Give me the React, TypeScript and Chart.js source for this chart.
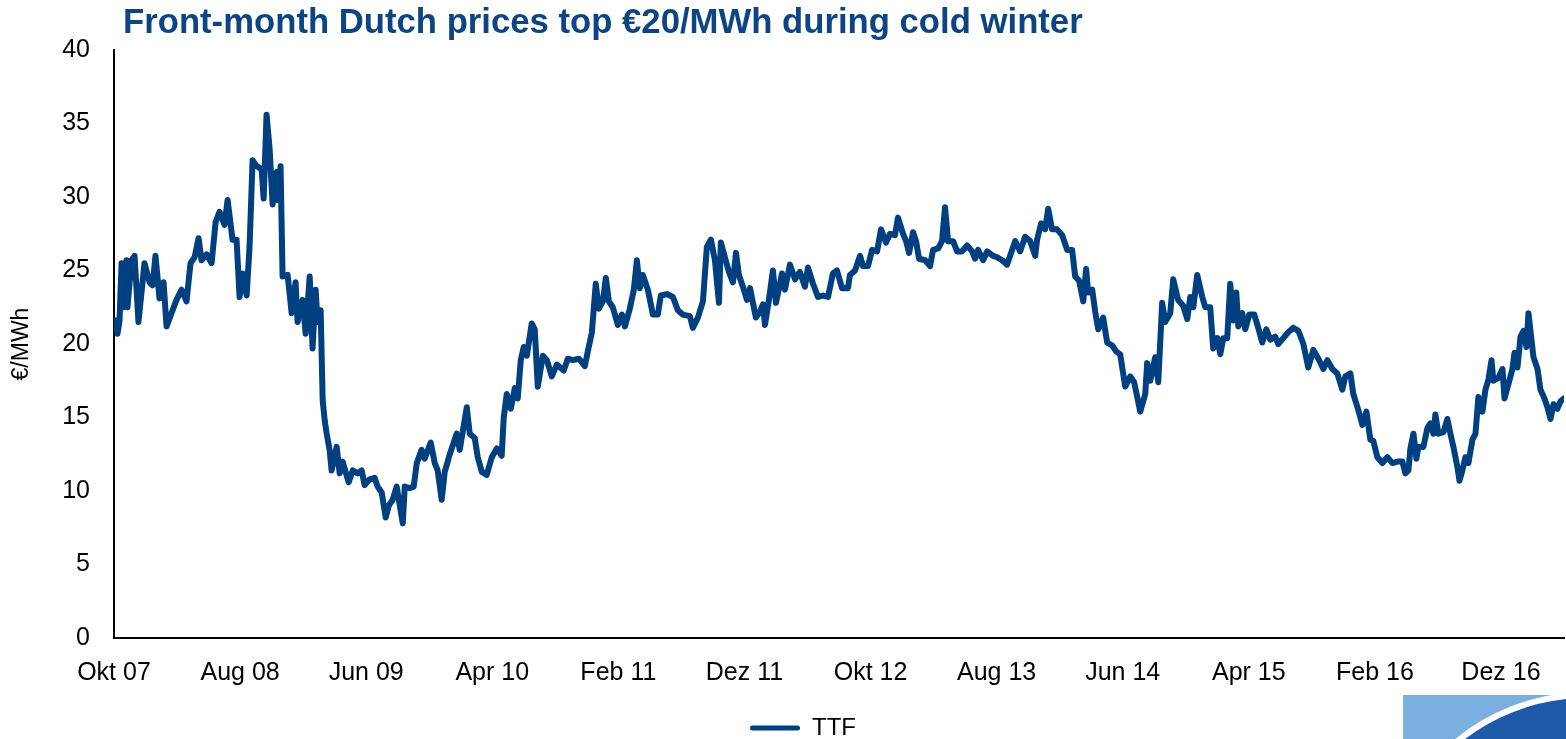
import React, { useEffect, useRef } from 'react';
import { Chart, registerables } from 'chart.js';

Chart.register(...registerables);

const chartTitle = 'Front-month Dutch prices top €20/MWh during cold winter';
const seriesName = 'TTF';
const yAxisTitle = '€/MWh';

// x positions are months since October 2007
const tickMonths = [0, 10, 20, 30, 40, 50, 60, 70, 80, 90, 100, 110];
const tickLabels = ['Okt 07', 'Aug 08', 'Jun 09', 'Apr 10', 'Feb 11', 'Dez 11', 'Okt 12', 'Aug 13', 'Jun 14', 'Apr 15', 'Feb 16', 'Dez 16'];

// [months since Oct 2007, €/MWh]
const ttf2007to2010: [number, number][] = [
  [0, 21.5], [0.12, 21.6], [0.28, 20.7], [0.44, 21.6], [0.6, 25.5], [0.75, 22.5], [0.99, 25.7], [1.07, 22.5],
  [1.39, 25.7], [1.63, 26.0], [1.94, 21.5], [2.42, 25.5], [2.82, 24.2], [3.06, 24.0], [3.29, 26.0], [3.61, 23.1],
  [3.93, 24.2], [4.17, 21.2], [4.56, 22.1], [4.96, 23.0], [5.36, 23.7], [5.75, 22.9], [6.07, 25.5], [6.39, 25.9],
  [6.71, 27.2], [6.94, 25.7], [7.34, 26.1], [7.74, 25.5], [8.06, 28.3], [8.37, 29.0], [8.77, 28.1], [9.01, 29.8],
  [9.4, 27.1], [9.72, 27.1], [9.96, 23.2], [10.2, 24.8], [10.52, 23.3], [10.75, 26.6], [10.99, 32.5], [11.31, 32.1],
  [11.71, 31.9], [11.87, 29.9], [12.1, 35.6], [12.34, 33.3], [12.58, 29.5], [12.9, 31.7], [12.98, 29.8], [13.21, 32.1],
  [13.37, 24.6], [13.77, 24.7], [14.09, 22.1], [14.4, 24.2], [14.56, 21.5], [14.96, 23.0], [15.2, 20.7], [15.52, 24.6],
  [15.75, 19.7], [15.99, 23.7], [16.15, 21.5], [16.39, 22.3], [16.55, 16.2], [16.71, 14.8], [16.87, 13.9], [17.1, 12.8],
  [17.26, 11.4], [17.66, 13.0], [17.9, 11.2], [18.13, 12.0], [18.61, 10.6], [18.93, 11.4], [19.33, 11.2], [19.64, 11.4],
  [19.88, 10.4], [20.28, 10.8], [20.67, 10.9], [20.91, 10.3], [21.23, 9.9], [21.55, 8.2], [21.79, 9.0], [22.1, 9.4],
  [22.42, 10.3], [22.9, 7.8], [23.06, 10.3], [23.45, 10.2], [23.77, 10.3], [24.01, 11.9], [24.4, 12.8], [24.64, 12.2],
  [25.12, 13.3], [25.44, 11.9], [25.67, 11.4], [25.99, 9.4], [26.23, 11.3], [26.63, 12.5], [27.18, 13.9], [27.42, 12.8],
  [27.98, 15.7], [28.21, 13.9], [28.61, 13.6], [28.85, 12.3], [29.17, 11.3], [29.56, 11.1],
];

const ttf2010to2012: [number, number][] = [
  [29.96, 12.3], [30.36, 12.9], [30.75, 12.4], [30.91, 15.0], [31.15, 16.6], [31.47, 15.6], [31.79, 17.0], [32.02, 16.3],
  [32.26, 18.9], [32.5, 19.8], [32.74, 19.2], [33.13, 21.4], [33.37, 21.0], [33.61, 17.1], [34.01, 19.2], [34.33, 18.9],
  [34.72, 17.8], [35.12, 18.6], [35.67, 18.2], [35.99, 19.0], [36.39, 18.9], [36.87, 19.0], [37.34, 18.5], [37.58, 19.5],
  [37.9, 20.8], [38.21, 24.1], [38.45, 22.4], [38.77, 22.9], [39.01, 24.5], [39.25, 22.9], [39.56, 22.5], [39.96, 21.3],
  [40.28, 22.0], [40.52, 21.2], [40.91, 22.4], [41.23, 23.7], [41.47, 25.7], [41.71, 23.8], [41.94, 24.7], [42.34, 23.7],
  [42.74, 22.0], [43.13, 22.0], [43.37, 23.3], [43.85, 23.4], [44.33, 23.2], [44.72, 22.3], [45.12, 22.0], [45.67, 21.9],
  [45.91, 21.1], [46.31, 21.8], [46.71, 22.9], [47.02, 26.6], [47.34, 27.1], [47.66, 25.7], [47.98, 22.8], [48.13, 26.9],
  [48.45, 25.9], [48.77, 24.9], [49.09, 24.2], [49.33, 26.2], [49.56, 24.7], [49.88, 23.9], [50.2, 23.0], [50.44, 23.8],
  [50.91, 21.8], [51.23, 22.2], [51.47, 22.7], [51.63, 21.3], [51.94, 23.0], [52.26, 25.0], [52.5, 22.8], [52.98, 24.8],
  [53.21, 23.7], [53.61, 25.4], [54.01, 24.4], [54.4, 24.9], [54.8, 23.9], [55.04, 25.2], [55.44, 24.1], [55.83, 23.2],
  [56.23, 23.3], [56.63, 23.2], [57.02, 24.8], [57.34, 25.0], [57.74, 23.8], [58.21, 23.8], [58.37, 24.7], [58.77, 25.0],
  [59.17, 26.0], [59.4, 25.3], [59.8, 25.3], [60.12, 26.4], [60.52, 26.3], [60.83, 27.8], [61.23, 26.9], [61.55, 27.5],
  [61.94, 27.4], [62.18, 28.6], [62.58, 27.5], [62.82, 27.0], [63.06, 26.2], [63.37, 27.6], [63.61, 27.0], [63.85, 25.8],
];

const ttf2013to2014: [number, number][] = [
  [64.33, 25.7], [64.72, 25.3], [64.96, 26.4], [65.36, 26.5], [65.67, 27.0], [65.91, 29.3], [66.15, 27.0], [66.55, 27.0],
  [66.87, 26.3], [67.26, 26.3], [67.66, 26.7], [68.06, 26.3], [68.29, 25.8], [68.53, 26.4], [68.93, 25.7], [69.25, 26.3],
  [69.72, 26.0], [70.04, 25.9], [70.44, 25.7], [70.83, 25.4], [71.23, 26.4], [71.47, 27.0], [71.87, 26.3], [72.26, 27.3],
  [72.66, 27.0], [73.06, 26.0], [73.21, 27.1], [73.53, 28.2], [73.85, 27.8], [74.09, 29.2], [74.4, 27.8], [74.8, 27.8],
  [75.2, 27.4], [75.6, 26.4], [75.99, 26.4], [76.23, 24.6], [76.55, 24.3], [76.87, 22.9], [77.1, 25.1], [77.26, 23.5],
  [77.58, 23.7], [77.82, 22.2], [78.06, 21.0], [78.45, 21.8], [78.77, 20.1], [79.17, 19.9], [79.48, 19.5], [79.8, 19.3],
  [80.2, 17.1], [80.6, 17.8], [80.91, 17.4], [81.15, 16.4], [81.39, 15.4], [81.79, 16.6], [81.94, 18.7], [82.18, 17.5],
  [82.58, 19.1], [82.82, 17.4], [83.13, 22.8], [83.37, 21.5], [83.77, 22.1], [84.01, 24.4], [84.4, 23.0], [84.8, 22.6],
  [85.12, 21.7], [85.36, 23.2], [85.6, 22.5], [85.91, 24.7], [86.31, 23.2], [86.55, 22.5], [86.94, 22.5], [87.18, 19.7],
  [87.5, 20.4], [87.74, 19.3], [87.98, 20.4], [88.29, 20.4], [88.53, 24.1], [88.77, 21.6], [89.01, 23.5], [89.17, 21.2],
  [89.48, 22.1], [89.72, 21.0],
];

const ttf2015to2017: [number, number][] = [
  [90.04, 22.0], [90.44, 22.0], [90.75, 21.1], [91.07, 20.1], [91.39, 21.0], [91.71, 20.3], [92.1, 20.5], [92.34, 20.0],
  [92.74, 20.4], [93.13, 20.8], [93.53, 21.1], [93.93, 20.9], [94.33, 20.0], [94.72, 18.4], [95.12, 19.6], [95.52, 19.0],
  [95.91, 18.3], [96.23, 18.9], [96.63, 18.3], [97.02, 18.0], [97.42, 16.9], [97.66, 17.8], [98.06, 18.0], [98.29, 16.6],
  [98.69, 15.5], [99.01, 14.5], [99.33, 15.4], [99.64, 13.5], [99.88, 13.4], [100.2, 12.3], [100.6, 11.9], [100.99, 12.3],
  [101.39, 11.9], [101.79, 12.0], [102.18, 12.0], [102.42, 11.2], [102.66, 11.4], [102.82, 12.9], [103.06, 13.9], [103.29, 12.2],
  [103.45, 13.0], [103.85, 13.0], [104.17, 14.3], [104.4, 14.6], [104.64, 13.9], [104.8, 15.2], [105.04, 13.9], [105.44, 14.0],
  [105.75, 14.9], [105.99, 13.9], [106.23, 13.0], [106.55, 11.6], [106.71, 10.7], [106.94, 11.4], [107.18, 12.3], [107.42, 11.9],
  [107.74, 13.5], [107.98, 13.9], [108.21, 16.4], [108.53, 15.4], [108.77, 16.9], [109.01, 17.6], [109.25, 18.9], [109.4, 17.5],
  [109.8, 17.7], [110.12, 18.3], [110.28, 16.3], [110.6, 17.3], [110.91, 18.3], [111.07, 19.4], [111.31, 18.4], [111.55, 20.5],
  [111.79, 20.9], [112.02, 19.8], [112.18, 22.1], [112.42, 20.3], [112.58, 19.1], [112.9, 18.3], [113.13, 16.9], [113.45, 16.3],
  [113.69, 15.7], [113.93, 14.9], [114.17, 15.9], [114.48, 15.6], [114.72, 16.1], [115, 16.3],
];

const FONT = "'Liberation Sans', Arial, Helvetica, sans-serif";
const LINE_COLOR = '#003F80';
const TITLE_COLOR = '#0D4584';
const W = 1566;
const H = 739;

export default function App() {
  const ref = useRef<HTMLCanvasElement>(null);

  useEffect(() => {
    document.body.style.margin = '0';
    const canvas = ref.current;
    if (!canvas) return;
    const points = [...ttf2007to2010, ...ttf2010to2012, ...ttf2013to2014, ...ttf2015to2017].map(([x, y]) => ({ x, y }));

    const chart = new Chart(canvas, {
      type: 'line',
      data: {
        datasets: [
          {
            label: seriesName,
            data: points,
            borderColor: LINE_COLOR,
            backgroundColor: LINE_COLOR,
            borderWidth: 6,
            pointRadius: 0,
            pointHoverRadius: 0,
            tension: 0,
            fill: false,
            borderJoinStyle: 'round',
            borderCapStyle: 'round',
          },
        ],
      },
      options: {
        animation: false,
        responsive: false,
        maintainAspectRatio: false,
        devicePixelRatio: 1,
        events: [],
        layout: { padding: { left: 0, right: 2, top: 0, bottom: 0 } },
        plugins: {
          title: {
            display: true,
            text: chartTitle,
            align: 'start',
            color: TITLE_COLOR,
            font: { family: FONT, size: 34.7, weight: 'bold', lineHeight: 1.2 },
            padding: { top: 2.5, bottom: 5.9 },
          },
          legend: {
            display: true,
            position: 'bottom',
            labels: {
              boxWidth: 50,
              boxHeight: 5,
              padding: 10,
              color: '#000',
              font: { family: FONT, size: 24 },
              useBorderRadius: true,
              borderRadius: 2.5,
              generateLabels: (c: any) =>
                (Chart.defaults.plugins.legend.labels.generateLabels as any)(c).map((l: any) => ({
                  ...l,
                  lineWidth: 0,
                  fillStyle: LINE_COLOR,
                  strokeStyle: LINE_COLOR,
                  borderRadius: 2.5,
                })),
            },
          },
          tooltip: { enabled: false },
        },
        scales: {
          x: {
            type: 'linear',
            min: 0,
            max: 115,
            afterBuildTicks: (s: any) => {
              s.ticks = tickMonths.map((v) => ({ value: v }));
            },
            afterFit: (s: any) => {
              const lh = s.chart.legend && s.chart.legend.height ? s.chart.legend.height : 44;
              s.height = H - 638 - lh;
            },
            ticks: {
              autoSkip: false,
              maxRotation: 0,
              minRotation: 0,
              padding: 20,
              color: '#000',
              font: { family: FONT, size: 25 },
              callback: (_v: any, i: number) => tickLabels[i] ?? '',
            },
            grid: { display: false, drawTicks: false },
            border: { display: true, color: '#000', width: 2 },
          },
          y: {
            min: 0,
            max: 40,
            afterFit: (s: any) => {
              s.width = 114;
            },
            ticks: {
              stepSize: 5,
              padding: 24,
              color: '#000',
              font: { family: FONT, size: 25 },
            },
            grid: { display: false, drawTicks: false },
            border: { display: true, color: '#000', width: 2 },
            title: {
              display: true,
              text: yAxisTitle,
              color: '#000',
              font: { family: FONT, size: 23, lineHeight: 1.2 },
              padding: { top: 8, bottom: 0 },
            },
          },
        },
      } as any,
      plugins: [
        {
          id: 'placeBlocks',
          afterLayout(c: any) {
            const t = c.titleBlock;
            if (t) {
              const w = t.right - t.left;
              t.left = 123;
              t.right = 123 + w;
            }
            const lg = c.legend;
            if (lg) {
              lg.left += 21;
              lg.right += 21;
              lg.top += 11;
              lg.bottom += 11;
            }
          },
        },
      ],
    });
    return () => chart.destroy();
  }, []);

  return (
    <div style={{ position: 'fixed', left: 0, top: 0, width: W, height: H, overflow: 'hidden', background: '#fff' }}>
      <canvas ref={ref} width={W} height={H} style={{ display: 'block', width: W, height: H }} />
      <div
        style={{
          position: 'absolute',
          left: 1403,
          top: 695,
          width: 163,
          height: 44,
          background: '#7AAFE0',
          overflow: 'hidden',
        }}
      >
        <div
          style={{
            position: 'absolute',
            left: -24,
            top: -3,
            width: 416,
            height: 416,
            borderRadius: '50%',
            background: '#1F5AAA',
            border: '6px solid #fff',
            boxSizing: 'border-box',
          }}
        />
      </div>
    </div>
  );
}
